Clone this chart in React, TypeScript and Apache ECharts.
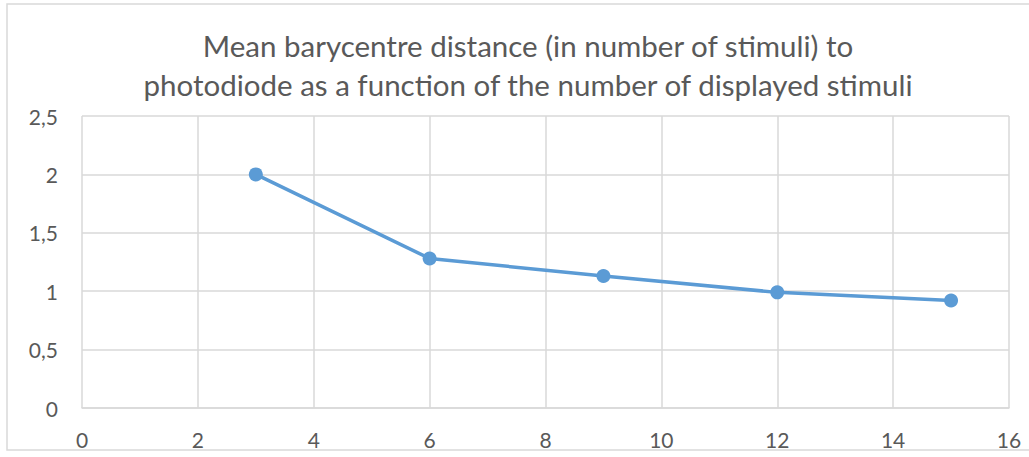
import React, { useEffect, useRef } from "react";
import * as echarts from "echarts";

const titleLines = [
  "Mean barycentre distance (in number of stimuli) to",
  "photodiode as a function of the number of displayed stimuli",
];
const stimuliCounts = [3, 6, 9, 12, 15];
const meanDistances = [2.0, 1.28, 1.13, 0.99, 0.92];

export default function App() {
  const ref = useRef<HTMLDivElement>(null);
  useEffect(() => {
    if (!ref.current) return;
    const chart = echarts.init(ref.current, null, { renderer: "svg" });
    const font = "Lato, 'Open Sans', sans-serif";
    chart.setOption({
      animation: false,
      backgroundColor: "#ffffff",
      title: {
        text: titleLines.join("\n"),
        left: 523,
        top: 21,
        textAlign: "center",
        textStyle: {
          fontFamily: font,
          fontSize: 29.5,
          fontWeight: "normal",
          color: "#595959",
          lineHeight: 39,
        },
      },
      graphic: [
        {
          type: "rect",
          shape: { x: 7, y: 4, width: 1040, height: 446 },
          style: { fill: "none", stroke: "#d9d9d9", lineWidth: 1.5 },
          silent: true,
          z: -1,
        },
      ],
      grid: { left: 82, right: 20, top: 116, bottom: 49 },
      xAxis: {
        type: "value",
        min: 0,
        max: 16,
        interval: 2,
        axisLine: { show: true, lineStyle: { color: "#d9d9d9", width: 1.5 } },
        axisTick: { show: false },
        splitLine: { show: true, lineStyle: { color: "#d9d9d9", width: 1.5 } },
        axisLabel: {
          fontFamily: font,
          fontSize: 21,
          color: "#595959",
          margin: 21,
        },
      },
      yAxis: {
        type: "value",
        min: 0,
        max: 2.5,
        interval: 0.5,
        axisLine: { show: false },
        axisTick: { show: false },
        splitLine: { show: true, lineStyle: { color: "#d9d9d9", width: 1.5 } },
        axisLabel: {
          fontFamily: font,
          fontSize: 21,
          color: "#595959",
          margin: 24,
          formatter: (v: number) => String(v).replace(".", ","),
        },
      },
      series: [
        {
          type: "line",
          data: stimuliCounts.map((x, i) => [x, meanDistances[i]]),
          symbol: "circle",
          symbolSize: 14,
          lineStyle: { color: "#5b9bd5", width: 3.5 },
          itemStyle: { color: "#5b9bd5" },
        },
      ],
    });
    return () => chart.dispose();
  }, []);
  return (
    <div
      ref={ref}
      style={{ position: "fixed", left: 0, top: 0, width: 1029, height: 457 }}
    />
  );
}
